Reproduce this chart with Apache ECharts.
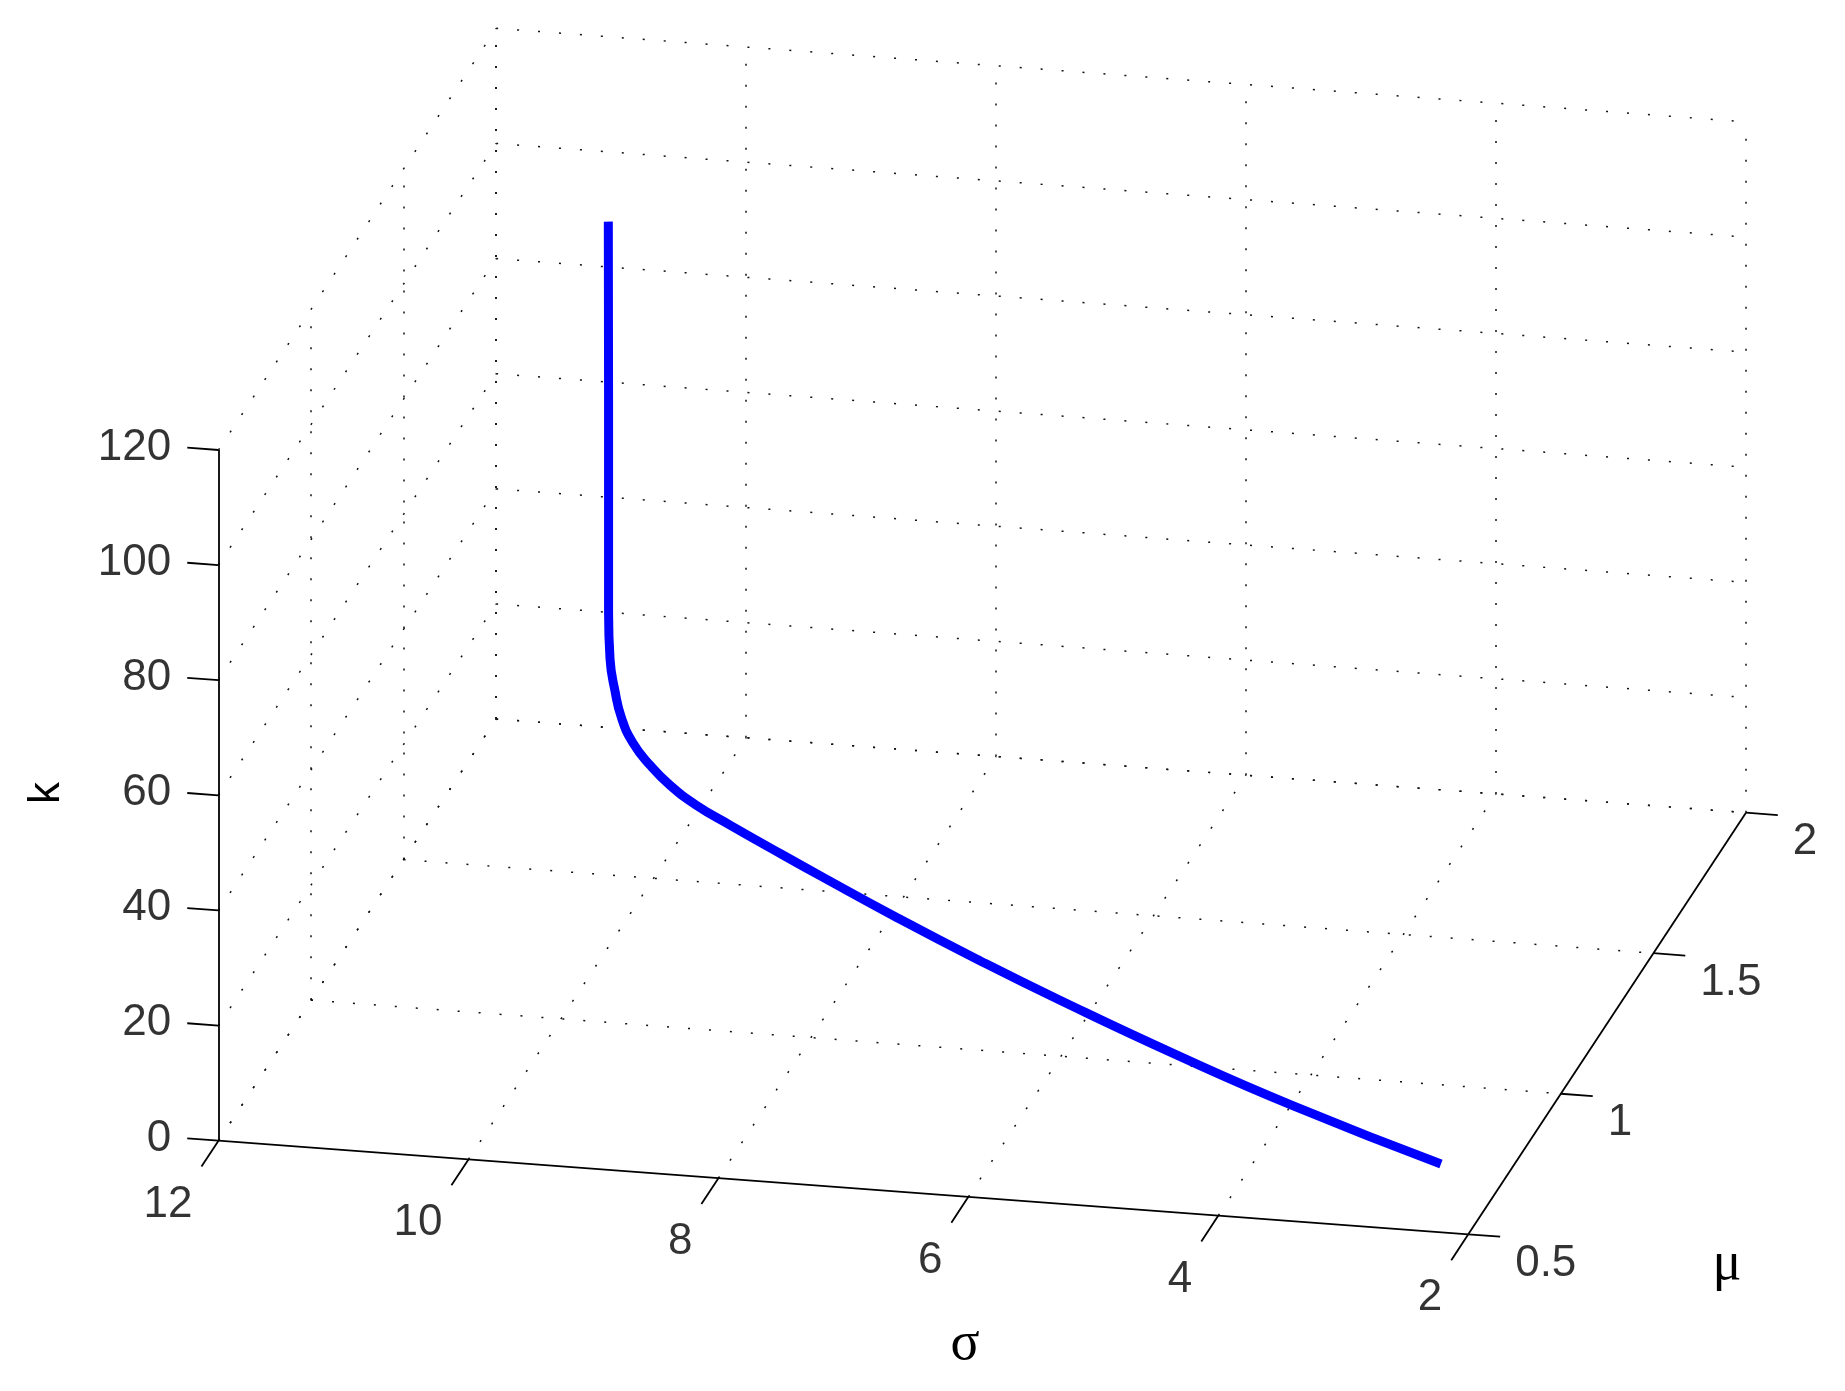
<!DOCTYPE html>
<html>
<head>
    <meta charset="utf-8">
    <title></title>
    <script src="https://cdn.jsdelivr.net/npm/echarts@6/dist/echarts.min.js"></script>
    <style>
        body{ margin: 0; background: #fff; }
        #main{ width: 1845px; height: 1391px; }
    </style>
</head>
<body>
<div id="main"></div>
<script>
    // tick values of the three axes
    var sigmaTicks = [2, 4, 6, 8, 10, 12];
    var muTicks = [0.5, 1, 1.5, 2];
    var kTicks = [0, 20, 40, 60, 80, 100, 120];

    // the curve (sigma, mu, k)
    var sigma = [10.362, 10.360, 10.360, 10.360, 10.346, 10.300, 10.237, 10.131, 9.972, 9.784,
                 9.534, 9.222, 8.726, 8.341, 7.686, 6.908, 6.140, 5.034, 3.938, 2.561];
    var mu = [1.500, 1.500, 1.500, 1.500, 1.4985, 1.4939, 1.4877, 1.4773, 1.4616, 1.4431,
              1.4184, 1.3877, 1.3387, 1.3009, 1.2362, 1.1596, 1.0839, 0.9749, 0.8668, 0.7311];
    var k = [113.5, 82.5, 54.7, 45.5, 37.6, 32.4, 28.0, 24.4, 21.6, 19.3,
             17.4, 16.0, 14.0, 12.5, 10.1, 7.6, 5.5, 3.0, 1.2, 0];

    // fixed camera: orthographic view, sigma=12 mu=0.5 k=0 at the front-left corner
    var O = [218.5, 1140.7];
    var A = [124.98, 9.36];     // per unit of sigma decrease
    var B = [185.1, -281.1];    // per unit of mu
    var C = [0, -5.756];        // per unit of k
    function proj(s, m, kk) {
        return [O[0] + (12 - s) * A[0] + (m - 0.5) * B[0] + kk * C[0],
                O[1] + (12 - s) * A[1] + (m - 0.5) * B[1] + kk * C[1]];
    }
    function seg(p, q) { return { coords: [proj(p[0], p[1], p[2]), proj(q[0], q[1], q[2])] }; }

    // dotted grid on the three back planes
    var grid = [];
    sigmaTicks.forEach(function (s) {
        grid.push(seg([s, 2, 0], [s, 2, 120]));
        if (s !== 2) grid.push(seg([s, 0.5, 0], [s, 2, 0]));
    });
    kTicks.forEach(function (kk) {
        grid.push(seg([12, 2, kk], [2, 2, kk]));
        grid.push(seg([12, 0.5, kk], [12, 2, kk]));
    });
    muTicks.forEach(function (m) {
        if (m !== 0.5) {
            grid.push(seg([12, m, 0], [12, m, 120]));
            grid.push(seg([12, m, 0], [2, m, 0]));
        }
    });

    // solid axes and ticks
    var axes = [seg([12, 0.5, 0], [2, 0.5, 0]), seg([2, 0.5, 0], [2, 2, 0]), seg([12, 0.5, 0], [12, 0.5, 120])];
    var sLab = [], mLab = [], kLab = [];
    sigmaTicks.forEach(function (s) {
        axes.push(seg([s, 0.5, 0], [s, 0.408, 0]));
        sLab.push(proj(s, 0.408, 0).concat([String(s)]));
    });
    muTicks.forEach(function (m) {
        axes.push(seg([2, m, 0], [1.745, m, 0]));
        mLab.push(proj(1.745, m, 0).concat([String(m)]));
    });
    kTicks.forEach(function (kk) {
        axes.push(seg([12, 0.5, kk], [12.25, 0.5, kk]));
        kLab.push(proj(12.25, 0.5, kk).concat([String(kk)]));
    });

    var curve = sigma.map(function (s, i) { return proj(s, mu[i], k[i]); });

    var tickFont = { fontFamily: 'Liberation Sans', fontSize: 44, color: '#000' };
    function labelSeries(data, align, offset) {
        return {
            type: 'scatter', data: data, symbolSize: 0, silent: true,
            label: Object.assign({
                show: true, position: 'inside', align: align, verticalAlign: 'middle', offset: offset,
                formatter: function (p) { return p.data[2]; }
            }, tickFont)
        };
    }

    var option = {
        animation: false,
        backgroundColor: '#fff',
        grid: { left: 0, right: 0, top: 0, bottom: 0 },
        xAxis: { type: 'value', min: 0, max: 1845, show: false },
        yAxis: { type: 'value', min: 0, max: 1391, inverse: true, show: false },
        series: [
            {
                type: 'lines', coordinateSystem: 'cartesian2d', data: grid, silent: true,
                lineStyle: { color: '#111', width: 1.5, type: [2, 19], opacity: 1 }
            },
            {
                type: 'lines', coordinateSystem: 'cartesian2d', data: axes, silent: true,
                lineStyle: { color: '#000', width: 1.8, type: 'solid', opacity: 1 }
            },
            {
                type: 'line', data: curve, showSymbol: false, smooth: 0.5, silent: true,
                lineStyle: { color: '#0000ff', width: 9, cap: 'butt' }
            },
            labelSeries(sLab, 'right', [-9, 38]),
            labelSeries(mLab, 'left', [15, 27]),
            labelSeries(kLab, 'right', [-16, 0])
        ],
        graphic: [
            { type: 'text', x: 47, y: 793, rotation: Math.PI / 2,
              style: { text: 'k', font: '44px "Liberation Sans"', fill: '#000', textAlign: 'center', textVerticalAlign: 'middle' } },
            { type: 'text', x: 965, y: 1345,
              style: { text: 'σ', font: '54px "Liberation Serif"', fill: '#000', textAlign: 'center', textVerticalAlign: 'middle' } },
            { type: 'text', x: 1727, y: 1265,
              style: { text: 'μ', font: '54px "Liberation Serif"', fill: '#000', textAlign: 'center', textVerticalAlign: 'middle' } }
        ]
    };

    var myChart = echarts.init(document.getElementById('main'));
    myChart.setOption(option);
</script>
</body>
</html>
